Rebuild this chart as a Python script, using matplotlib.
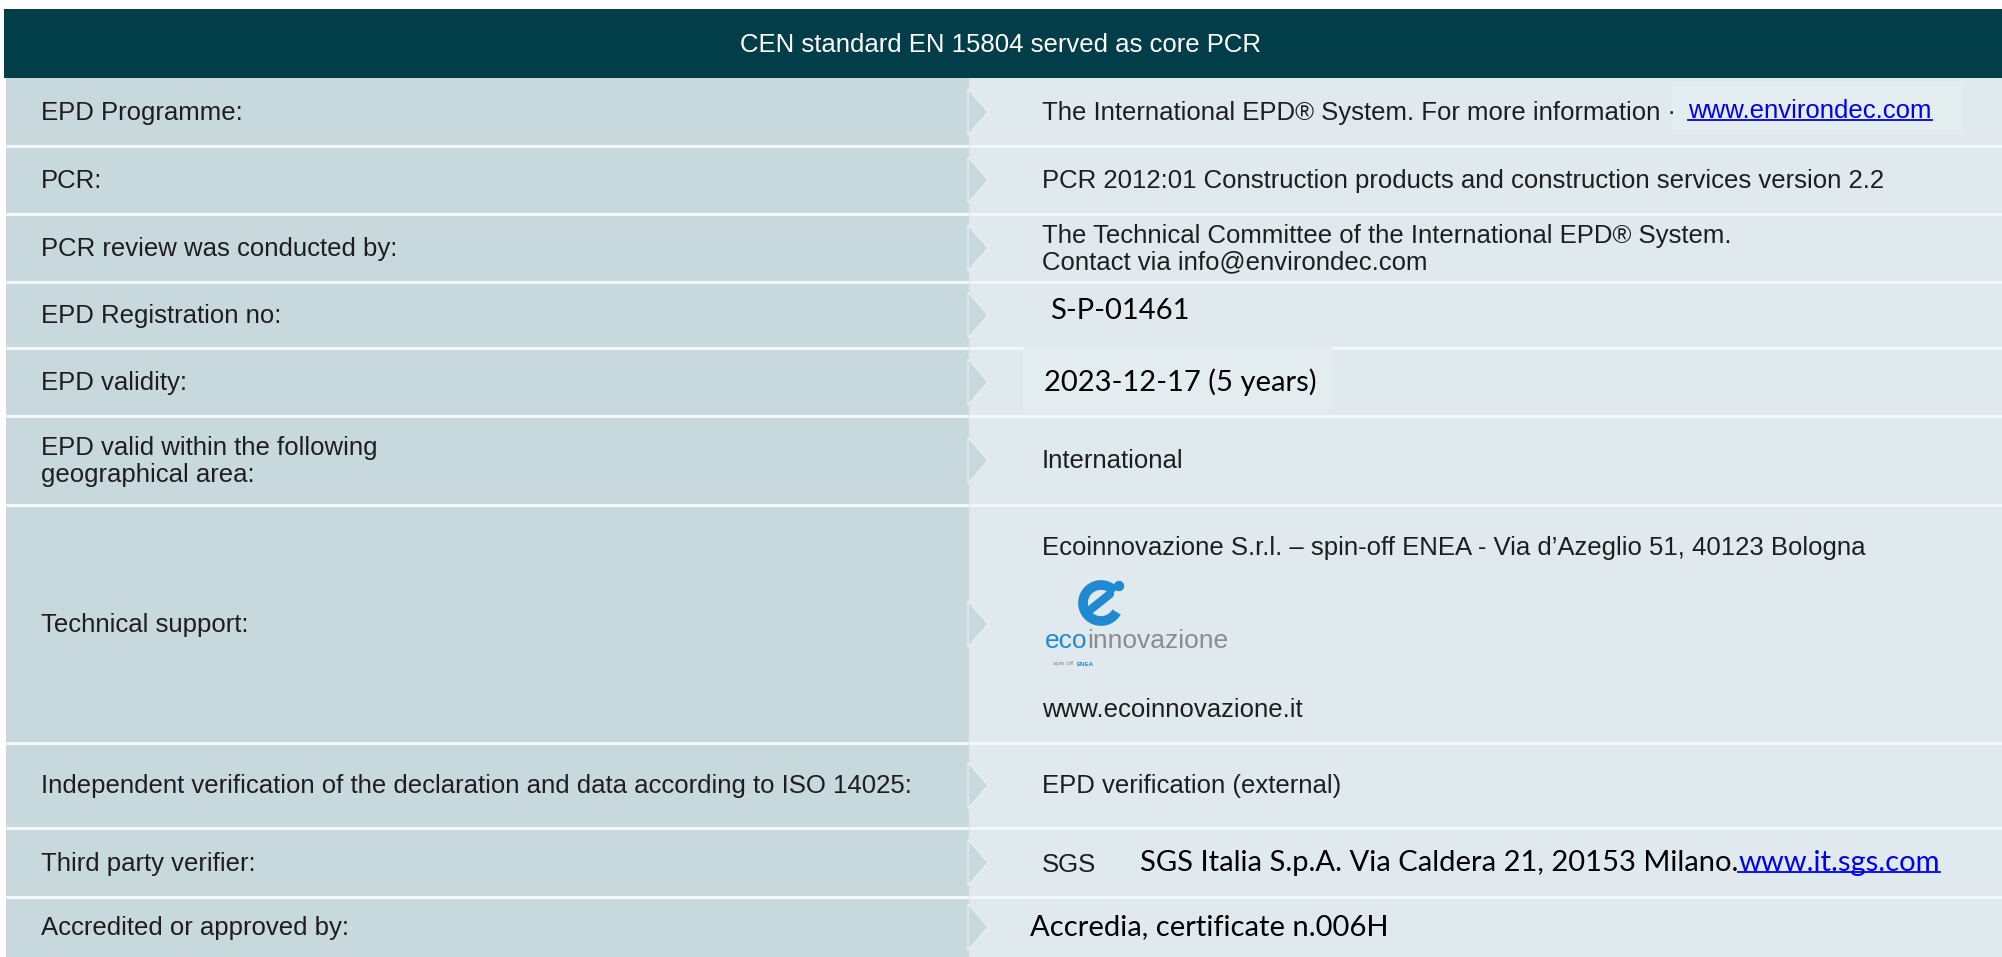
import matplotlib.pyplot as plt
from matplotlib.patches import Rectangle, Polygon, Arc, Circle

# table content
header_text = 'CEN standard EN 15804 served as core PCR'

row_labels = [
    'EPD Programme:',
    'PCR:',
    'PCR review was conducted by:',
    'EPD Registration no:',
    'EPD validity:',
    'EPD valid within the following\ngeographical area:',
    'Technical support:',
    'Independent verification of the declaration and data according to ISO 14025:',
    'Third party verifier:',
    'Accredited or approved by:',
]

row_values = [
    'The International EPD® System. For more information ·',
    'PCR 2012:01 Construction products and construction services version 2.2',
    'The Technical Committee of the International EPD® System.\nContact via info@environdec.com',
    'S-P-01461',
    '2023-12-17 (5 years)',
    'International',
    'Ecoinnovazione S.r.l. – spin-off ENEA - Via d’Azeglio 51, 40123 Bologna',
    'EPD verification (external)',
    'SGS',
    'Accredia, certificate n.006H',
]

environdec_link = 'www.environdec.com'
sgs_address = 'SGS Italia S.p.A. Via Caldera 21, 20153 Milano.'
sgs_link = 'www.it.sgs.com'
tech_web = 'www.ecoinnovazione.it'
logo_parts = ['eco', 'innovazione']
logo_sub = ['spin off', 'ENEA']

# rows whose value text was pasted in another font (Calibri look)
pasted_rows = [3, 4, 9]

# layout in pixels (figure is 2002 x 957)
W, H = 2002, 957
row_edges = [78, 146, 214, 282, 348, 416, 505, 743, 828, 897, 957]
header_top = 9
left_x = 6
split_x = 969
tip_x = 988
chev_half = 23
label_x = 41
value_x = 1042

c_header = '#023e4a'
c_left = '#c8d9dd'
c_right = '#e0eaee'
c_sep = '#f2f7f8'
c_text = '#1e1e1e'
c_link = '#0000ee'

arial = 'Liberation Sans'
calibri = 'Lato'
fs = 18.5
fs_cal = 21

fig = plt.figure(figsize=(W / 100, H / 100), dpi=100)
ax = fig.add_axes([0, 0, 1, 1])
ax.set_xlim(0, W)
ax.set_ylim(H, 0)
ax.axis('off')

# header bar
ax.add_patch(Rectangle((4, header_top), W - 4, row_edges[0] - header_top,
                       facecolor=c_header, edgecolor='none'))
ax.text(W / 2, (header_top + row_edges[0]) / 2 + 1, header_text, color='white',
        fontsize=fs, family=arial, ha='center', va='center')

# column backgrounds
top, bottom = row_edges[0], row_edges[-1]
ax.add_patch(Rectangle((left_x, top), split_x - left_x, bottom - top,
                       facecolor=c_left, edgecolor='none'))
ax.add_patch(Rectangle((split_x, top), W - split_x, bottom - top,
                       facecolor=c_right, edgecolor='none'))

# separators
for y in row_edges[1:-1]:
    ax.plot([left_x, W], [y, y], color=c_sep, lw=2.2, solid_capstyle='butt', zorder=2)
ax.plot([split_x, split_x], [top, bottom], color='#dde8eb', lw=0.8, zorder=2)

# pasted boxes, slightly lighter, covering the separator
ax.add_patch(Rectangle((1023, row_edges[4] - 2), 310, row_edges[5] - row_edges[4] - 1,
                       facecolor='#e3ecef', edgecolor='none', zorder=2.5))
ax.add_patch(Rectangle((1672, row_edges[0] + 4), 290, 52,
                       facecolor='#e4edf0', edgecolor='none', zorder=1))

# chevrons pointing into the value column
for i in range(len(row_labels)):
    yc = (row_edges[i] + row_edges[i + 1]) / 2
    ax.add_patch(Polygon([(split_x - 1, yc - chev_half), (tip_x, yc),
                          (split_x - 1, yc + chev_half)], closed=True,
                         facecolor=c_left, edgecolor='#eaf1f3', lw=0.8, zorder=3))


def underline(t):
    fig.canvas.draw()
    bb = t.get_window_extent()
    inv = ax.transData.inverted()
    x0, y0 = inv.transform((bb.x0, bb.y0))
    x1, _ = inv.transform((bb.x1, bb.y0))
    ax.plot([x0, x1], [y0 - 3, y0 - 3], color=c_link, lw=1.3, zorder=5)
    return x1


# labels
for i, lab in enumerate(row_labels):
    yc = (row_edges[i] + row_edges[i + 1]) / 2
    ax.text(label_x, yc + 1, lab, color=c_text, fontsize=fs, family=arial,
            ha='left', va='center', linespacing=1.15, zorder=4)

# values
for i, val in enumerate(row_values):
    yc = (row_edges[i] + row_edges[i + 1]) / 2
    if i == 6:
        ax.text(value_x, 548, val, color=c_text, fontsize=fs, family=arial,
                ha='left', va='center', zorder=4)
        continue
    if i in pasted_rows:
        x = 1030 if i == 9 else (1050 if i == 3 else 1044)
        dy = -4 if i == 3 else 0
        ax.text(x, yc + dy, val, color='black', fontsize=fs_cal, family=calibri,
                ha='left', va='center', zorder=4)
    elif i == 8:
        ax.text(value_x, yc + 3, val, color=c_text, fontsize=fs, family=arial,
                ha='left', va='center', zorder=4)
    else:
        ax.text(value_x, yc + 1, val, color=c_text, fontsize=fs, family=arial,
                ha='left', va='center', linespacing=1.1, zorder=4)

# links
yc0 = (row_edges[0] + row_edges[1]) / 2
t = ax.text(1688, yc0 - 1, environdec_link, color=c_link, fontsize=fs, family=arial,
            ha='left', va='center', zorder=4)
underline(t)

yc8 = (row_edges[8] + row_edges[9]) / 2
t = ax.text(1140, yc8, sgs_address, color='black', fontsize=fs_cal, family=calibri,
            ha='left', va='center', zorder=4)
fig.canvas.draw()
bb = t.get_window_extent()
x_end = ax.transData.inverted().transform((bb.x1, bb.y0))[0]
t = ax.text(x_end, yc8, sgs_link, color=c_link, fontsize=fs_cal, family=calibri,
            ha='left', va='center', zorder=4)
underline(t)

# technical support: logo and web address
blue = '#1f8ad2'
ax.add_patch(Arc((1101, 603), 36, 36, theta1=30, theta2=320, color=blue, lw=7, zorder=4))
ax.plot([1090, 1110], [610, 594], color=blue, lw=6, solid_capstyle='round', zorder=4)
ax.add_patch(Circle((1119, 586), 4.5, color=blue, zorder=4))
t = ax.text(1045, 648, logo_parts[0], color=blue, fontsize=19, family=arial,
            ha='left', va='baseline', zorder=4)
fig.canvas.draw()
bb = t.get_window_extent()
x_end = ax.transData.inverted().transform((bb.x1, bb.y0))[0]
ax.text(x_end, 648, logo_parts[1], color='#8c8c8c', fontsize=19, family=arial,
        ha='left', va='baseline', zorder=4)
ax.text(1053, 664, logo_sub[0], color='#888888', fontsize=4.5, family=arial,
        ha='left', va='center', zorder=4)
ax.text(1077, 664, logo_sub[1], color=blue, fontsize=4.5, family=arial,
        fontweight='bold', ha='left', va='center', zorder=4)
ax.text(value_x, 710, tech_web, color=c_text, fontsize=fs, family=arial,
        ha='left', va='center', zorder=4)

fig.savefig('out.png', dpi=100, facecolor='white')
plt.close(fig)
